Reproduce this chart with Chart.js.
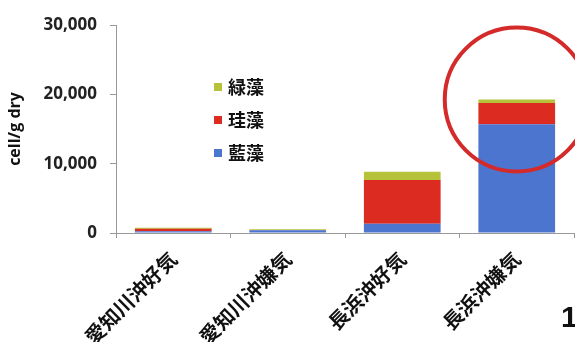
<!DOCTYPE html>
<html>
<head>
<meta charset="utf-8">
<script src="https://cdn.jsdelivr.net/npm/chart.js@4"></script>
<style>
  html, body { margin: 0; padding: 0; background: #fff; }
  #wrap { position: relative; width: 575px; height: 342px; overflow: hidden; }
  #page-no { position: absolute; left: 561px; top: 300px; font: bold 30px "Liberation Sans", sans-serif; color: #111; }
</style>
</head>
<body>
<div id="wrap">
  <canvas id="algae" width="575" height="342"></canvas>
  <div id="page-no">1</div>
</div>
<script>
// sites (aerobic / anaerobic sediment)
var sites = ["愛知川沖好気", "愛知川沖嫌気", "長浜沖好気", "長浜沖嫌気"];

// cells per g dry sediment
var blueGreen = [250, 380, 1350, 15700];   // 藍藻
var diatoms   = [350, 50, 6300, 3050];     // 珪藻
var greens    = [150, 120, 1200, 500];     // 緑藻

var yTicks = [0, 10000, 20000, 30000];

var jpFont = '"Noto Sans CJK JP", sans-serif';
var numFont = '"Open Sans", "Liberation Sans", sans-serif';

// legend drawn inside the plot, top entry = top of stack
var legendBox = {
    id: "legendBox",
    afterDraw: function (chart) {
        var ctx = chart.ctx;
        var sets = chart.data.datasets.slice().reverse();
        ctx.save();
        ctx.font = "bold 18px " + jpFont;
        ctx.textBaseline = "middle";
        sets.forEach(function (ds, i) {
            var y = 87 + i * 33;
            ctx.fillStyle = ds.backgroundColor;
            ctx.fillRect(214, y - 4, 8, 8);
            ctx.fillStyle = "#111";
            ctx.fillText(ds.label, 228, y);
        });
        ctx.restore();
    }
};

// red ring around the top of the last stack
var ring = {
    id: "ring",
    afterDraw: function (chart) {
        var x = chart.scales.x, y = chart.scales.y;
        var last = sites.length - 1;
        var total = blueGreen[last] + diatoms[last] + greens[last];
        var ctx = chart.ctx;
        ctx.save();
        ctx.strokeStyle = "#d42a2a";
        ctx.lineWidth = 4;
        ctx.beginPath();
        ctx.arc(x.getPixelForValue(last), y.getPixelForValue(total), 72, 0, Math.PI * 2);
        ctx.stroke();
        ctx.restore();
    }
};

new Chart(document.getElementById("algae"), {
    type: "bar",
    data: {
        labels: sites,
        datasets: [
            { label: "藍藻", data: blueGreen, backgroundColor: "#4c75d0" },
            { label: "珪藻", data: diatoms, backgroundColor: "#dc2b21" },
            { label: "緑藻", data: greens, backgroundColor: "#b6c33a" }
        ]
    },
    options: {
        responsive: false,
        animation: false,
        layout: { padding: { top: 25, right: 1, left: 2, bottom: 0 } },
        datasets: { bar: { categoryPercentage: 0.67, barPercentage: 1 } },
        plugins: { legend: { display: false }, tooltip: { enabled: false } },
        scales: {
            x: {
                stacked: true,
                grid: { offset: true, drawOnChartArea: false, tickLength: 5, color: "#999" },
                border: { color: "#999" },
                ticks: {
                    maxRotation: 45, minRotation: 45, padding: 9,
                    color: "#111", font: { family: jpFont, size: 20, weight: "bold" }
                },
                afterFit: function (s) { s.height = 109; }
            },
            y: {
                stacked: true,
                min: 0, max: 30000,
                afterBuildTicks: function (s) { s.ticks = yTicks.map(function (v) { return { value: v }; }); },
                grid: { drawOnChartArea: false, tickLength: 6, color: "#999" },
                border: { color: "#999" },
                ticks: {
                    padding: 13, color: "#222",
                    font: { family: numFont, size: 17, weight: "bold" },
                    callback: function (v) { return v.toLocaleString("en-US"); }
                },
                title: {
                    display: true, text: "cell/g dry", color: "#111", padding: 4,
                    font: { family: numFont, size: 16, weight: "bold" }
                },
                afterFit: function (s) { s.width = 114; }
            }
        }
    },
    plugins: [legendBox, ring]
});
</script>
</body>
</html>
